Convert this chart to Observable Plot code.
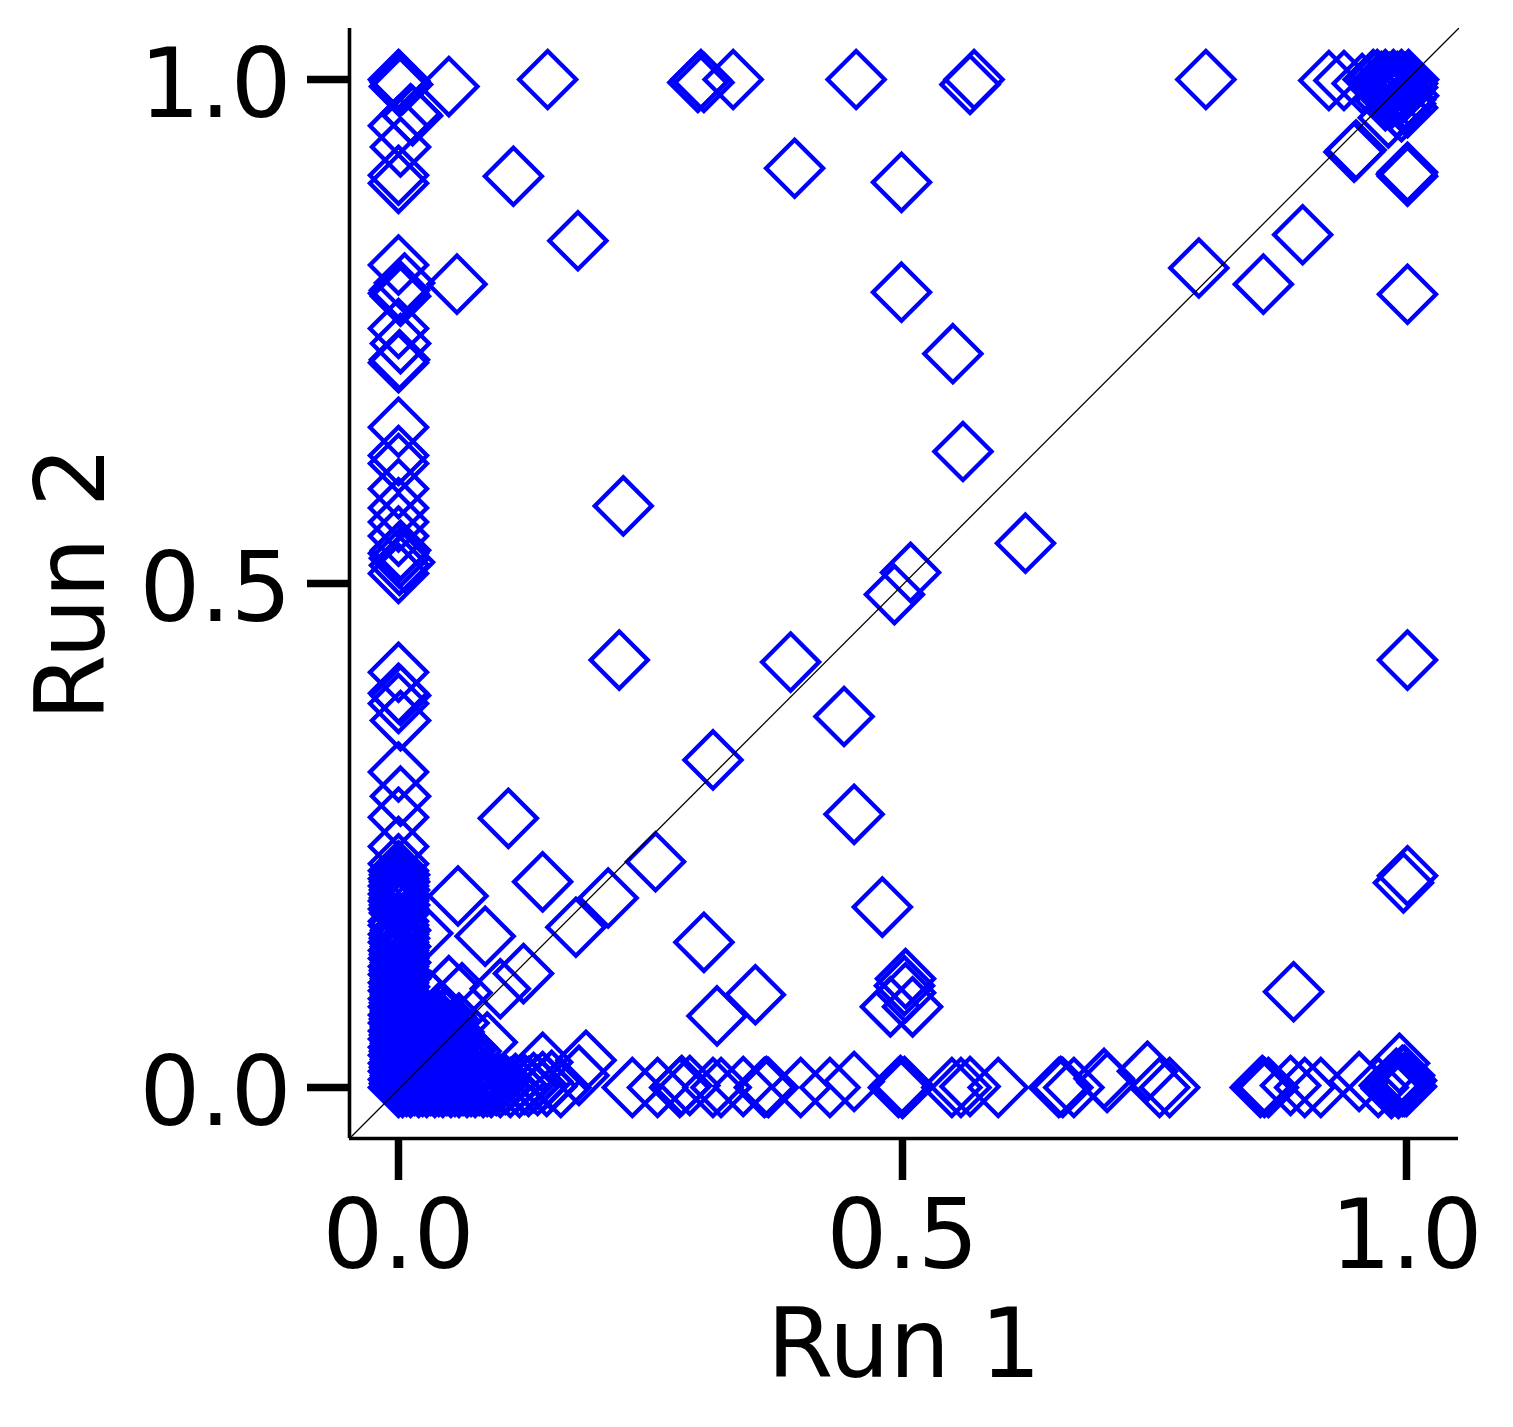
<!DOCTYPE html>
<html>
<head>
<meta charset="utf-8">
<style>html,body{margin:0;padding:0;background:#fff}svg{display:block}</style>
<script src="https://cdn.jsdelivr.net/npm/d3@7"></script>
<script src="https://cdn.jsdelivr.net/npm/@observablehq/plot@0.6"></script>
</head>
<body>
<script>
const xTicks = [0, 0.5, 1];
const yTicks = [0, 0.5, 1];
const xLimits = [-0.0486, 1.0516];
const yLimits = [-0.0506, 1.0506];

const scattered = [[.050,.993],[.148,1],[.300,1],[.297,.997],[.303,.997],[.332,1],[.454,1],[.571,1],[.567,.995],[.801,1],
[.393,.912],[.114,.904],[.499,.898],[.178,.840],[.058,.797],[.499,.789],[.897,.846],[.794,.813],[.858,.797],[1.001,.787],
[.550,.728],[.560,.631],[.223,.577],[.622,.540],[.508,.511],[.492,.489],[.219,.424],[.389,.422],[1.001,.424],[.442,.368],
[.312,.325],[.452,.271],[.109,.267],[.255,.224],[.059,.190],[.143,.204],[.208,.188],[.176,.159],[.086,.150],[.480,.179],
[.303,.144],[1.001,.210],[.997,.203],[.503,.108],[.502,.101],[.503,.094],[.488,.080],[.510,.080],[.354,.092],[.316,.071],[.888,.095]];

const leftColumn = [[0,1],[.001,.999],[.002,.997],[.004,.995],[.001,.993],[.014,.964],[.012,.966],[0,.954],[.002,.933],[0,.905],[0,.897],
[0,.816],[.006,.798],[.001,.791],[0,.788],[.002,.785],[0,.753],[.002,.738],[.001,.722],[0,.719],
[0,.655],[0,.627],[0,.619],[0,.594],[0,.575],[0,.561],[0,.547],[.002,.533],[0,.530],[.001,.525],[.006,.521],[.001,.518],[0,.510],
[0,.412],[0,.391],[.002,.389],[0,.381],[.002,.364],[0,.313],[.002,.289],[0,.268],[0,.239],[0,.222]];

const lowColumn = [[0,.215],[.001,.211],[0,.207],[.001,.204],[0,.200],[.001,.196],[0,.192],[.001,.188],[0,.185],[.001,.181],[0,.177],[.001,.173],[0,.165],
[0,.161],[.002,.156],[0,.152],[.001,.148],[0,.144],[.002,.140],[0,.136],[.001,.132],[0,.128],[.002,.124],[0,.120],[.001,.116],[0,.112],[.002,.108],[0,.104],[.001,.100],[0,.096],[.002,.092],[0,.088],[.001,.084],[0,.080],[.002,.076],[0,.072],[.001,.068],[0,.064],[.002,.060],[0,.056],[.001,.052],[0,.048],[.002,.044],[0,.040],[.001,.036],[0,.032],[.002,.028],[0,.024],[.001,.020],[0,.016],[.002,.012],[0,.008],[.001,.004],[0,0]];

const corner = [[.004,.004],[.008,.008],[.012,.012],[.016,.016],[.020,.020],[.024,.024],[.028,.028],[.032,.032],[.036,.036],[.040,.040],[.044,.044],[.048,.048],[.052,.052],[.055,.055],
[.020,.001],[.024,.004],[.028,.008],[.032,.012],[.036,.016],[.040,.020],[.044,.024],[.048,.028],[.052,.032],[.056,.036],[.060,.040],[.064,.042],[.068,.040],[.072,.036],
[.002,.020],[.004,.024],[.008,.028],[.012,.032],[.016,.036],[.020,.040],[.024,.044],[.028,.048],[.032,.052],[.034,.056],[.036,.060],[.040,.064],[.036,.068],[.034,.084],[.032,.086],
[.047,.071],[.050,.101],[.063,.094],[.049,.068],[.060,.064],[.088,.045],[.090,.007],[.101,.098],[.124,.113],[.024,.153]];

const cornerNear = [[.014,.004],[.018,.008],[.022,.012],[.026,.016],[.030,.020],[.034,.024],[.038,.028],[.042,.032],[.046,.036],[.050,.040],[.054,.044],[.058,.046],
[.004,.014],[.008,.018],[.012,.022],[.016,.026],[.020,.030],[.024,.034],[.028,.038],[.032,.042],[.036,.046],[.040,.050],[.044,.054],[.046,.060],
[.002,.032],[.006,.036],[.010,.040],[.014,.044],[.018,.048],[.022,.052],[.026,.056],[.030,.060],[.034,.064],[.037,.070],[.040,.074],
[.034,.004],[.038,.008],[.042,.012],[.046,.016],[.050,.020],[.054,.024],[.058,.028],[.062,.032],[.066,.036]];

const bottomRow = [[.004,0],[.008,.001],[.012,0],[.016,.002],[.020,0],[.024,.001],[.028,0],[.032,.002],[.036,0],[.040,.001],[.044,0],[.048,.002],[.052,0],[.056,.001],[.060,0],[.064,.002],[.068,0],[.072,.001],[.076,0],[.080,.002],[.084,0],[.088,.001],[.092,0],
[.097,.002],[.101,0],[.106,.003],[.111,0],[.116,.004],[.120,0],[.125,.003],[.129,.001],[.134,.005],[.138,.002],[.143,.006],[.147,.001],[.152,.007],[.161,0],
[.143,.025],[.186,.027],[.179,.012],[.232,0],
[.074,.004],[.078,.003],[.082,.005],[.086,.003],[.090,.004],[.094,.003],[.099,.005]];

const midRow = [[.257,0],[.279,0],[.281,.002],[.289,.002],[.312,0],[.320,0],[.342,.001],[.363,0],[.365,.001],[.367,0],[.399,0],[.428,0],[.452,.006],
[.496,0],[.498,.002],[.500,-.001],[.502,.001],[.549,0],[.558,0],[.567,.001],[.595,0],[.655,0],[.657,.001],[.659,0],[.670,0],[.700,.009],[.703,.005],[.743,.016],[.755,0],[.765,0]];

const rightBottom = [[.855,0],[.859,0],[.857,.002],[.863,0],[.885,.002],[.899,0],[.915,0],[.953,.006],[.972,0],[.993,.024],[.983,.002],
[.990,.009],[.994,.005],[.998,.005],[1.000,.007],[.996,.001],[.992,-.001],[.998,.012],[.998,.001],[.996,.012],[.987,.002],[.992,.003],[1.000,.001],[.985,-.001]];

const topRight = [[.923,.999],[.938,.999],[.956,.996],[.967,1],[.971,1],[.975,.998],[.979,1],[.983,.997],[.987,1],[.991,.998],[.995,1],[.999,.997],[1.002,1],
[1.001,.996],[1.001,.992],[.998,.988],[1.002,.984],[.999,.980],[.999,.976],[1.001,.972],[.985,.992],[.989,.988],[.993,.984],[.979,.979],[.982,.962],[.983,.994],[.975,.990],[.992,.992],[.995,.990],
[.948,.928],[.950,.930],[1.001,.908],[1.001,.904],[1.000,.906],
[.978,.995],[.981,.990],[.986,.982],[.990,.972],[.995,.968],[.997,.978]];

const points = [...scattered, ...leftColumn, ...lowColumn, ...corner, ...cornerNear, ...bottomRow, ...midRow, ...rightBottom, ...topRight];

const font = "DejaVu Sans";
const chart = Plot.plot({
  width: 1513,
  height: 1427,
  marginLeft: 349,
  marginRight: 55,
  marginTop: 28,
  marginBottom: 289,
  style: {background: "#fff", fontFamily: font},
  x: {domain: xLimits},
  y: {domain: yLimits},
  marks: [
    Plot.dot(points, {x: d => d[0], y: d => d[1], symbol: "diamond2", r: 25.7, fill: "none", stroke: "#0000ff", strokeWidth: 4.3}),
    Plot.line([[xLimits[0], yLimits[0]], [xLimits[1], yLimits[1]]], {x: d => d[0], y: d => d[1], stroke: "#000", strokeWidth: 1.3}),
    Plot.ruleX([xLimits[0]], {stroke: "#000", strokeWidth: 3.6}),
    Plot.ruleY([yLimits[0]], {stroke: "#000", strokeWidth: 3.6}),
    Plot.axisX({anchor: "bottom", ticks: xTicks, tickFormat: d3.format(".1f"), tickSize: 42, tickPadding: 20, strokeWidth: 7.5, fontSize: 95.5, fontFamily: font, color: "#000", label: "Run 1", labelAnchor: "center", labelArrow: "none", labelOffset: 238}),
    Plot.axisY({anchor: "left", ticks: yTicks, tickFormat: () => "", tickSize: 42, strokeWidth: 7.5, fontSize: 95.5, fontFamily: font, color: "#000", label: "Run 2", labelAnchor: "center", labelArrow: "none", labelOffset: 313}),
    Plot.axisY({anchor: "left", ticks: yTicks, tickFormat: d3.format(".1f"), tickSize: 0, tickPadding: 58, dy: 7, fontSize: 95.5, fontFamily: font, color: "#000", label: null})
  ]
});
document.body.appendChild(chart);
</script>
</body>
</html>
